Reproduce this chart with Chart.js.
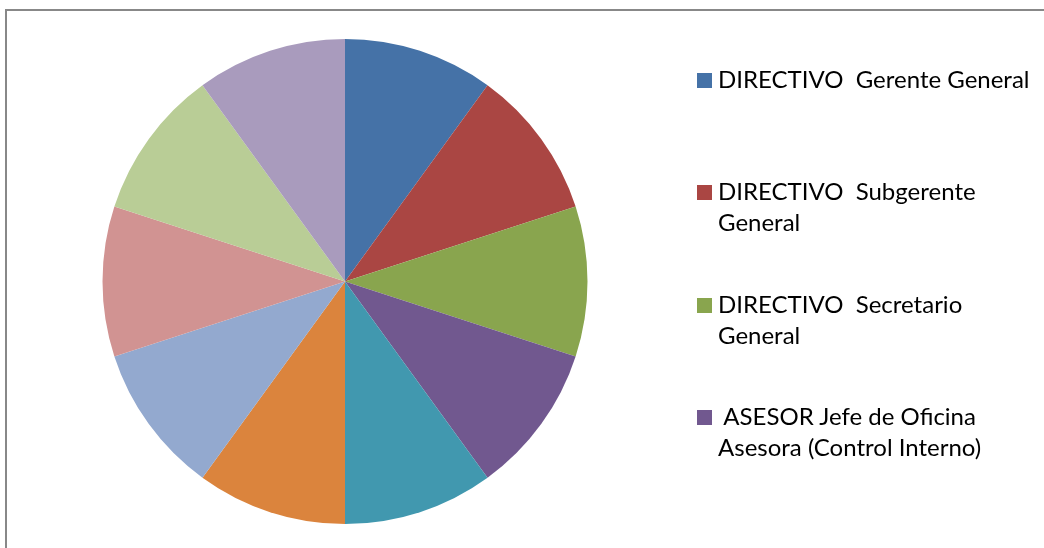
<!DOCTYPE html>
<html>
<head>
<meta charset="utf-8">
<script src="https://cdn.jsdelivr.net/npm/chart.js@4.4.1/dist/chart.umd.min.js"></script>
<style>
  html, body { margin: 0; padding: 0; background: #ffffff; overflow: hidden; }
  #wrap { position: relative; width: 1044px; height: 548px; }
  #frame {
    position: absolute; left: 5px; top: 9px; width: 1100px; height: 600px;
    border-left: 2px solid #888888; border-top: 2px solid #888888;
  }
  #pie { position: absolute; left: 0; top: 0; }
  #legend { position: absolute; left: 0; top: 0; font-family: Lato, "Noto Sans", sans-serif; font-size: 24px; color: #000; }
  .item { position: absolute; left: 697px; line-height: 31px; white-space: pre; }
  .box { position: absolute; left: 0; top: 10px; width: 15px; height: 15px; }
  .txt { position: absolute; left: 21px; top: 0; }
</style>
</head>
<body>
<div id="wrap">
  <div id="frame"></div>
  <canvas id="pie" width="1044" height="548"></canvas>
  <div id="legend"></div>
</div>
<script>
// Etiquetas (solo las 4 primeras se ven en la leyenda recortada)
const labels = [
  ["DIRECTIVO  Gerente General"],
  ["DIRECTIVO  Subgerente", "General"],
  ["DIRECTIVO  Secretario", "General"],
  [" ASESOR Jefe de Oficina", "Asesora (Control Interno)"],
  ["Cargo 5"], ["Cargo 6"], ["Cargo 7"], ["Cargo 8"], ["Cargo 9"], ["Cargo 10"]
];
// Cada cargo = 1 (10 porciones iguales)
const values = [1, 1, 1, 1, 1, 1, 1, 1, 1, 1];
const colors = ["#4572a7", "#aa4643", "#89a54e", "#71588f", "#4198af",
                "#db843d", "#93a9cf", "#d19392", "#b9cd96", "#a99bbd"];
const visibleLegend = 4;

const ctx = document.getElementById("pie").getContext("2d");
const pieChart = new Chart(ctx, {
  type: "pie",
  data: {
    labels: labels.map(l => l.join(" ")),
    datasets: [{
      data: values,
      backgroundColor: colors,
      borderWidth: 0
    }]
  },
  options: {
    responsive: false,
    animation: false,
    layout: { padding: { left: 102, top: 39, right: 456, bottom: 24 } },
    plugins: {
      legend: { display: false },
      tooltip: { enabled: false }
    }
  }
});

// Leyenda HTML
const legendEl = document.getElementById("legend");
labels.slice(0, visibleLegend).forEach((lines, i) => {
  const item = document.createElement("div");
  item.className = "item";
  item.style.top = (63 + i * 112.4) + "px";
  const box = document.createElement("div");
  box.className = "box";
  box.style.background = colors[i];
  const txt = document.createElement("div");
  txt.className = "txt";
  txt.textContent = lines.join("\n");
  item.appendChild(box);
  item.appendChild(txt);
  legendEl.appendChild(item);
});
</script>
</body>
</html>
